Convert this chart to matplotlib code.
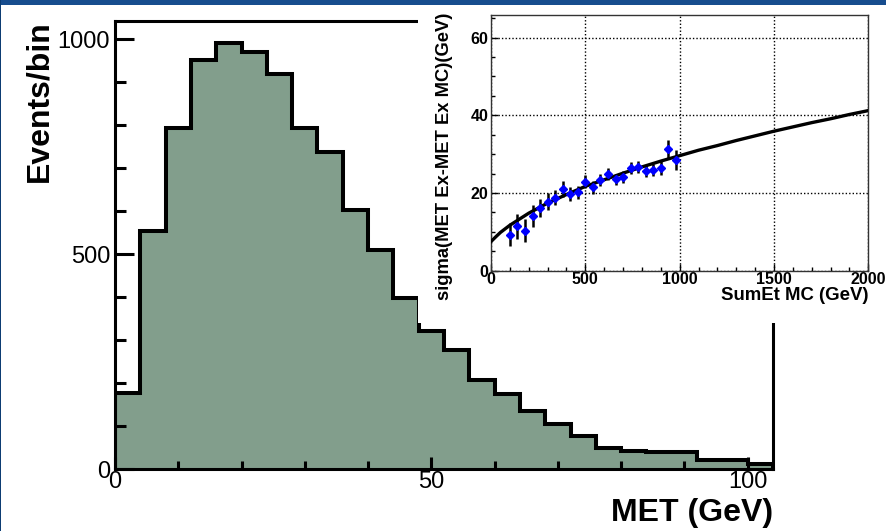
import numpy as np
import matplotlib
matplotlib.use("Agg")
import matplotlib.pyplot as plt
from matplotlib.patches import Rectangle
from matplotlib.ticker import MultipleLocator

plt.rcParams['font.family'] = ['Liberation Sans', 'DejaVu Sans']

# main histogram: MET, 4 GeV bins from 0 to 104
met_edges = np.arange(0, 105, 4)
met_counts = [177, 554, 794, 952, 992, 971, 919, 794, 737, 603,
              510, 398, 322, 276, 208, 175, 136, 105, 77, 49,
              43, 39, 39, 21, 21, 12]

# inset: resolution vs SumEt
sumet = [100, 140, 180, 220, 260, 300, 340, 380, 420, 460, 500, 540,
         580, 620, 660, 700, 740, 780, 820, 860, 900, 940, 980]
sigma = [9.3, 11.4, 10.3, 14.1, 16.1, 17.7, 18.8, 21.0, 19.8, 20.2, 22.9, 21.5,
         23.4, 24.9, 23.5, 24.1, 26.4, 26.7, 25.7, 25.9, 26.4, 31.3, 28.5]
sigma_err = [3.0, 3.3, 3.0, 2.8, 2.4, 2.2, 2.0, 2.0, 1.8, 1.7, 1.7, 1.7,
             1.6, 1.5, 1.5, 1.5, 1.5, 1.5, 1.5, 1.6, 1.8, 2.4, 2.6]

# fitted curve
fit_x = [0, 25, 50, 100, 200, 300, 400, 500, 600, 700, 800, 900, 1000,
         1100, 1200, 1300, 1400, 1500, 1600, 1700, 1800, 1900, 2000]
fit_y = [7.5, 8.7, 9.85, 11.7, 14.8, 17.4, 19.6, 21.7, 23.4, 25.1, 26.7, 28.2, 29.6,
         31.0, 32.2, 33.5, 34.7, 35.9, 37.0, 38.1, 39.1, 40.2, 41.2]

W, H = 887, 531
fig = plt.figure(figsize=(W / 100, H / 100), dpi=100)

# slide background bits
fig.add_artist(Rectangle((0, 1 - 5 / H), 1, 5 / H, transform=fig.transFigure,
                         facecolor='#174d8e', edgecolor='none', zorder=5))
fig.add_artist(Rectangle((0, 0), 1.5 / W, 1, transform=fig.transFigure,
                         facecolor='#0d3d73', edgecolor='none', zorder=5))

# --- main plot ---
ax = fig.add_axes([115 / W, 62 / H, 658 / W, 448.3 / H])
ax.stairs(met_counts, met_edges, fill=True, facecolor='#829e8c', edgecolor='none')
ax.stairs(met_counts, met_edges, baseline=0, color='black', lw=2.9)
ax.set_xlim(0, 104)
ax.set_ylim(0, 1043)
for s in ax.spines.values():
    s.set_linewidth(2.2)
ax.xaxis.set_major_locator(MultipleLocator(50))
ax.xaxis.set_minor_locator(MultipleLocator(10))
ax.yaxis.set_major_locator(MultipleLocator(500))
ax.yaxis.set_minor_locator(MultipleLocator(100))
ax.tick_params(axis='y', which='major', direction='in', length=14, width=2.2,
               labelsize=17, pad=3.5)
ax.tick_params(axis='y', which='minor', direction='in', length=8, width=2.2)
ax.tick_params(axis='x', which='major', direction='in', length=9, width=2.2,
               labelsize=17, pad=1.5)
ax.tick_params(axis='x', which='minor', direction='in', length=5.5, width=2.2)
ax.set_xlabel('MET (GeV)', fontsize=23, fontweight='bold', loc='right')
ax.xaxis.set_label_coords(1.0, -0.064)
ax.set_ylabel('Events/bin', fontsize=23, fontweight='bold', loc='top')
ax.yaxis.set_label_coords(-0.092, 1.0)

# white box behind the inset
fig.add_artist(Rectangle((418 / W, (H - 323) / H), 1 - 418 / W, (323 - 5) / H,
                         transform=fig.transFigure, facecolor='white',
                         edgecolor='none', zorder=1))

# --- inset ---
ax2 = fig.add_axes([491 / W, (H - 270.7) / H, 377.3 / W, 255.7 / H], zorder=2)
ax2.plot(fit_x, fit_y, color='black', lw=2.4, zorder=3)
ax2.errorbar(sumet, sigma, yerr=sigma_err, fmt='D', color='blue', ms=4.5,
             ecolor='black', elinewidth=1.8, capsize=0, zorder=4)
ax2.set_xlim(0, 2000)
ax2.set_ylim(0, 65.8)
ax2.xaxis.set_major_locator(MultipleLocator(500))
ax2.xaxis.set_minor_locator(MultipleLocator(100))
ax2.yaxis.set_major_locator(MultipleLocator(20))
ax2.yaxis.set_minor_locator(MultipleLocator(5))
ax2.grid(True, which='major', color='black', linestyle=(0, (1, 1.5)), lw=1.0)
for s in ax2.spines.values():
    s.set_linewidth(1.0)
    s.set_color('#333333')
ax2.tick_params(which='major', direction='in', length=5, width=1.0, labelsize=11.5, pad=2)
ax2.tick_params(which='minor', direction='in', length=3, width=1.0)
ax2.tick_params(axis='x', pad=1.0)
for lab in ax2.get_xticklabels() + ax2.get_yticklabels():
    lab.set_fontweight('bold')
ax2.set_xlabel('SumEt MC (GeV)', fontsize=13.4, fontweight='bold', loc='right')
ax2.xaxis.set_label_coords(1.0, -0.064)
ax2.set_ylabel('sigma(MET Ex-MET Ex MC)(GeV)', fontsize=13.2, fontweight='bold', loc='top')
ax2.yaxis.set_label_coords(-0.10, 1.008)

fig.savefig('out.png', dpi=100)
